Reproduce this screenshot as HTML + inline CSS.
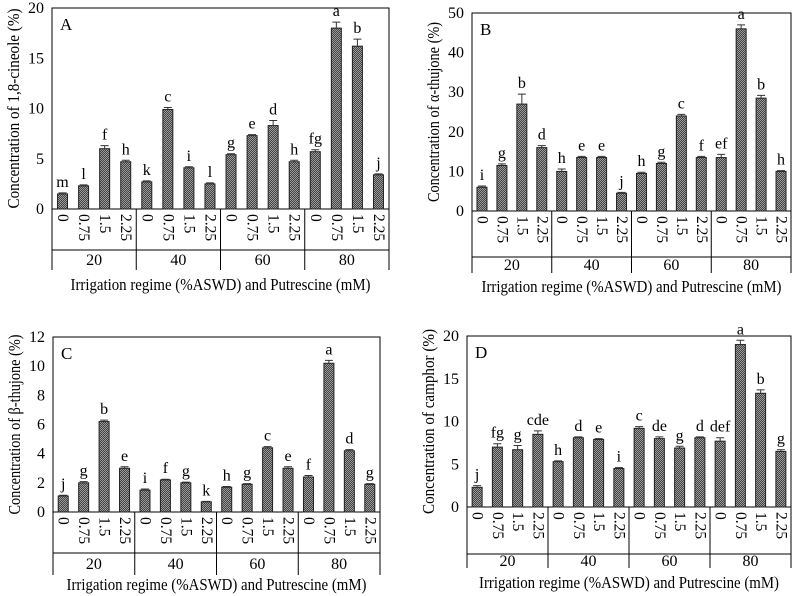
<!DOCTYPE html>
<html><head><meta charset="utf-8"><style>
body{margin:0;background:#fff;}
svg{display:block;font-family:"Liberation Serif",serif;}
</style></head><body>
<svg id="fig" width="794" height="596" viewBox="0 0 794 596" xmlns="http://www.w3.org/2000/svg">
<defs>
<pattern id="hatch" width="2" height="2" patternUnits="userSpaceOnUse">
<rect width="2" height="2" fill="#444"/><rect width="1" height="1" fill="#9a9a9a"/><rect x="1" y="1" width="1" height="1" fill="#9a9a9a"/>
</pattern>
</defs>
</svg>
<script>
const groups = ["20","40","60","80"];
const doses = ["0","0.75","1.5","2.25"];
const valsA = [1.5,2.3,6.0,4.7, 2.7,9.9,4.1,2.5, 5.4,7.3,8.3,4.7, 5.7,18.0,16.2,3.4];
const errA  = [0.1,0.1,0.3,0.15, 0.1,0.2,0.1,0.1, 0.1,0.1,0.5,0.15, 0.2,0.6,0.7,0.1];
const letA  = ["m","l","f","h","k","c","i","l","g","e","d","h","fg","a","b","j"];
const valsB = [6,11.5,27,16, 10,13.5,13.5,4.5, 9.5,12,24,13.5, 13.5,46,28.5,10];
const errB  = [0.3,0.4,2.5,0.5, 0.6,0.3,0.3,0.2, 0.3,0.3,0.4,0.3, 0.8,1.0,0.7,0.2];
const letB  = ["i","g","b","d","h","e","e","j","h","g","c","f","ef","a","b","h"];
const valsC = [1.1,2.0,6.2,3.0, 1.5,2.2,2.0,0.7, 1.7,1.9,4.4,3.0, 2.4,10.2,4.2,1.9];
const errC  = [0.05,0.08,0.1,0.1, 0.08,0.05,0.05,0.03, 0.05,0.05,0.08,0.1, 0.1,0.2,0.08,0.05];
const letC  = ["j","g","b","e","i","f","g","k","h","g","c","e","f","a","d","g"];
const valsD = [2.3,7.0,6.7,8.5, 5.3,8.1,7.9,4.5, 9.2,8.0,6.9,8.1, 7.7,19.0,13.3,6.5];
const errD  = [0.2,0.4,0.5,0.4, 0.1,0.1,0.1,0.1, 0.2,0.2,0.2,0.1, 0.4,0.5,0.4,0.2];
const letD  = ["j","fg","g","cde","h","d","e","i","c","de","g","d","def","a","b","g"];
const ticksA=[0,5,10,15,20], ticksB=[0,10,20,30,40,50], ticksC=[0,2,4,6,8,10,12], ticksD=[0,5,10,15,20];

const NS="http://www.w3.org/2000/svg";
const svg=document.getElementById('fig');
function mk(tag,attrs,parent,text){const e=document.createElementNS(NS,tag);for(const k in attrs)e.setAttribute(k,attrs[k]);if(text!==undefined)e.textContent=text;parent.appendChild(e);return e;}

function panel(id,L,R,T,Z,hline,bottom,titleY,ticks,vals,errs,lets,ytitle,ylen){
  const g=mk('g',{},svg);
  
  
  const ymax=ticks[ticks.length-1];
  const y=v=>Z-(v/ymax)*(Z-T);
  const bw=(R-L)/16;
  const x=i=>L+(i+0.5)*bw;
  const frame=mk('rect',{x:L,y:T,width:R-L,height:Z-T,fill:'none',stroke:'#000','stroke-width':1},g);
  
  
  ticks.forEach(t=>{
    const tl=mk('text',{x:L-8,y:y(t)+5,'text-anchor':'end','font-size':16},g,String(t));
    
    
  });
  const pl=mk('text',{x:L+8,y:T+22,'font-size':17},g,id);
  
  
  vals.forEach((v,i)=>{
    const b=mk('rect',{x:x(i)-5,y:y(v),width:10,height:Z-y(v),fill:'url(#hatch)',stroke:'#222','stroke-width':1},g);
    
    
    const ye=y(v+errs[i]);
    const eb=mk('path',{d:`M${x(i)},${y(v)}V${ye}M${x(i)-4},${ye}H${x(i)+4}`,stroke:'#333','stroke-width':1,fill:'none'},g);
    
    
    const lt=mk('text',{x:x(i),y:ye-6,'text-anchor':'middle','font-size':16},g,lets[i]);
    
    
    const cl=mk('text',{x:x(i),y:Z+5,'font-size':15.5,'dominant-baseline':'central',transform:`rotate(90 ${x(i)} ${Z+5})`},g,doses[i%4]);
    
    
  });
  const seps=[0,4,8,12,16].map(k=>L+k*bw);
  seps.forEach(sx=>{
    const sl=mk('line',{x1:sx,y1:Z,x2:sx,y2:bottom,stroke:'#000','stroke-width':1},g);
    
    
  });
  const hl=mk('line',{x1:L,y1:hline,x2:R,y2:hline,stroke:'#000','stroke-width':1},g);
  
  
  groups.forEach((gr,k)=>{
    const gl=mk('text',{x:L+(k*4+2)*bw,y:(hline+bottom)/2+5,'text-anchor':'middle','font-size':16},g,gr);
    
    
  });
  const xt=mk('text',{x:(L+R)/2-150,y:titleY,'font-size':16.5,textLength:300,lengthAdjust:'spacingAndGlyphs'},g,'Irrigation regime (%ASWD) and Putrescine (mM)');
  
  
  const cy=(T+Z)/2, cx=L-38;
  const yt=mk('text',{x:cx-ylen/2,y:cy+5,'font-size':16.5,textLength:ylen,lengthAdjust:'spacingAndGlyphs',transform:`rotate(-90 ${cx} ${cy})`},g,ytitle);
  
  
}
panel('A',52,389,8,209,250,270,290,ticksA,valsA,errA,letA,'Concentration of 1,8-cineole (%)',200);
panel('B',472,791,13,211,257,273,292,ticksB,valsB,errB,letB,'Concentration of \u03b1-thujone (%)',180);
panel('C',53,380,337,512,553,575,590,ticksC,valsC,errC,letC,'Concentration of \u03b2-thujone (%)',180);
panel('D',467,791,336,507,554,568,588,ticksD,valsD,errD,letD,'Concentration of camphor (%)',185);
</script>
</body></html>
